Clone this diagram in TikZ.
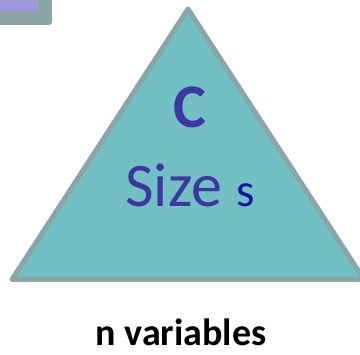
\documentclass[tikz,border=0pt]{standalone}
\usepackage{fontspec}
\setmainfont{Carlito}
\definecolor{trifill}{HTML}{72BFC4}
\definecolor{edgegrey}{HTML}{8BA4A6}
\definecolor{boxpurple}{HTML}{9C98DB}
\definecolor{labblue}{HTML}{3B38A0}
\definecolor{sblue}{HTML}{14149A}
\tikzset{
  tri/.style={fill=trifill, draw=edgegrey, line width=5pt, line join=round},
  lab/.style={inner sep=0pt, anchor=base},
}
\begin{document}
\begin{tikzpicture}[x=1pt,y=-1pt]
\useasboundingbox (0,0) rectangle (360,355);
% corner box (partly outside)
\fill[edgegrey, rounded corners=3pt] (-20,-20) rectangle (52,25);
\fill[boxpurple] (-20,-20) rectangle (38,12);
% triangle
\draw[tri] (188,9) coordinate (apex) -- (364,279.5) coordinate (br) -- (12,279.5) coordinate (bl) -- cycle;
% labels
\node[lab, text=labblue, font=\fontsize{62}{62}\selectfont\bfseries] (c) at (190,128) {C};
\node[lab, text=labblue] (size) at (190,207) {\fontsize{62}{62}\selectfont Size {\color{sblue}\fontsize{47}{47}\selectfont s}};
\node[lab, font=\fontsize{38}{38}\selectfont\bfseries] (nv) at (181,346) {n variables};
\end{tikzpicture}
\end{document}
